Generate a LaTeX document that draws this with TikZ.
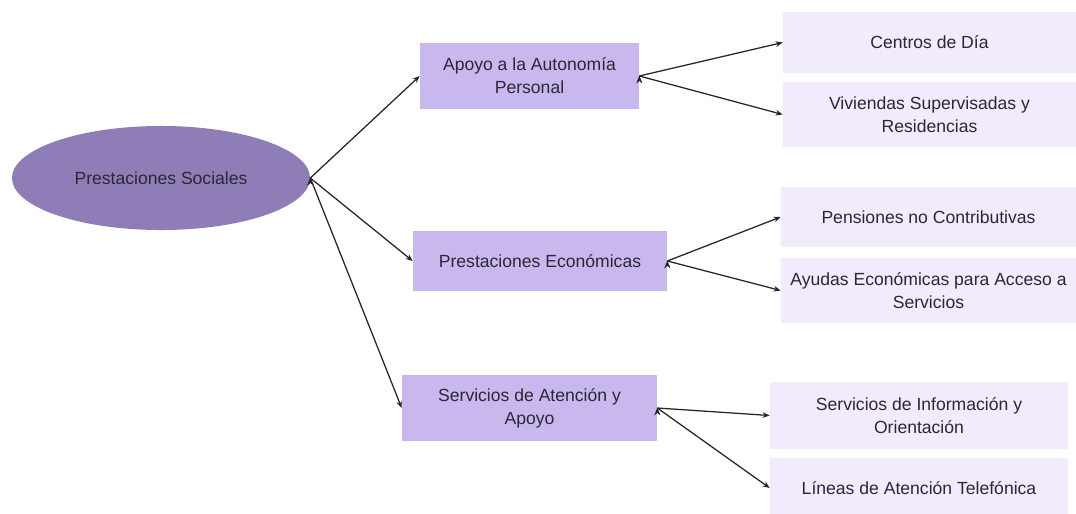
\documentclass[tikz,border=0pt]{standalone}
\usepackage{fontspec}
\setmainfont{Liberation Sans}
\usepackage{tikz}
\usetikzlibrary{shapes.geometric}
\usetikzlibrary{arrows.meta}
\definecolor{rootfill}{HTML}{8F7DB8}
\definecolor{midfill}{HTML}{C9B8EE}
\definecolor{leaffill}{HTML}{F1EBFB}
\definecolor{txt}{HTML}{2A2833}

\begin{document}
\begin{tikzpicture}[x=0.025cm, y=-0.025cm, font=\fontsize{12.5}{16.5}\selectfont, text=txt]
		\tikzstyle{root}=[ellipse, fill=rootfill, inner sep=0pt, minimum width=7.45cm, minimum height=2.6cm]
		\tikzstyle{mid}=[rectangle, fill=midfill, inner sep=0pt, align=center]
		\tikzstyle{leaf}=[rectangle, fill=leaffill, inner sep=0pt, align=center]
		\tikzstyle{arrow}=[-{Stealth[length=5pt,width=4pt]}, line width=0.9pt, draw=black!85]

		\useasboundingbox (0,0) rectangle (1076,513);

		% Draw the nodes
		\node[root] (prest) at (161,178) {Prestaciones Sociales};

		\node[mid, minimum width=5.475cm, minimum height=1.65cm] (apoyo) at (529.5,76) {Apoyo a la Autonomía\\Personal};
		\node[mid, minimum width=6.35cm, minimum height=1.5cm] (econ) at (540,261) {Prestaciones Económicas};
		\node[mid, minimum width=6.375cm, minimum height=1.65cm] (serv) at (529.5,408) {Servicios de Atención y\\Apoyo};

		\node[leaf, minimum width=7.325cm, minimum height=1.525cm] (centros) at (929.5,42.5) {Centros de Día};
		\node[leaf, minimum width=7.325cm, minimum height=1.625cm] (viviendas) at (929.5,114.5) {Viviendas Supervisadas y\\Residencias};
		\node[leaf, minimum width=7.375cm, minimum height=1.5cm] (pensiones) at (928.5,217) {Pensiones no Contributivas};
		\node[leaf, minimum width=7.375cm, minimum height=1.625cm] (ayudas) at (928.5,290.5) {Ayudas Económicas para Acceso a\\Servicios};
		\node[leaf, minimum width=7.45cm, minimum height=1.675cm] (info) at (919,415.5) {Servicios de Información y\\Orientación};
		\node[leaf, minimum width=7.45cm, minimum height=1.5cm] (lineas) at (919,488) {Líneas de Atención Telefónica};

		% Draw arrows
		\path[arrow] (prest.east) edge (apoyo.west);
		\path[arrow] (prest.east) edge (econ.west);
		\path[arrow] (prest.east) edge (serv.west);
		\path[arrow] (apoyo.east) edge (centros.west);
		\path[arrow] (apoyo.east) edge (viviendas.west);
		\path[arrow] (econ.east) edge (pensiones.west);
		\path[arrow] (econ.east) edge (ayudas.west);
		\path[arrow] (serv.east) edge (info.west);
		\path[arrow] (serv.east) edge (lineas.west);

		\end{tikzpicture}
\end{document}
